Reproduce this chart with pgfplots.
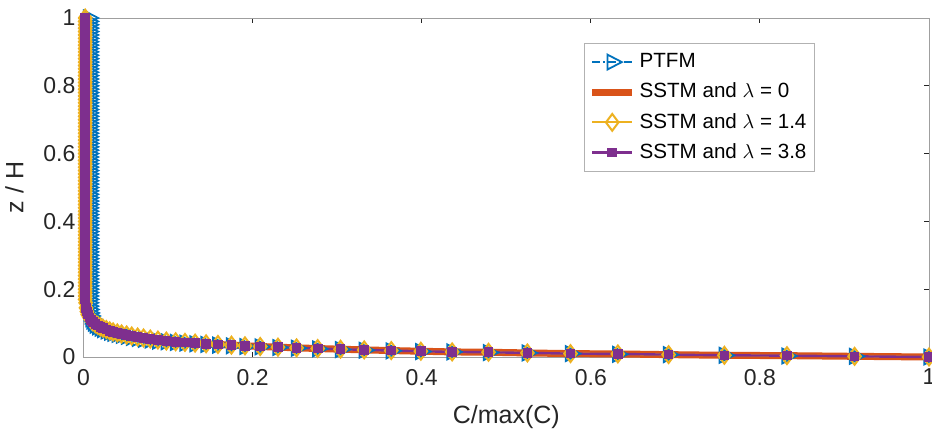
\documentclass[border=0pt]{standalone}
\usepackage{pgfplots}
\usepackage{pgfplotstable}
\pgfplotsset{compat=1.18}
\usepackage{fontspec}
\setmainfont{Liberation Sans}
\definecolor{mblue}{HTML}{0072BD}
\definecolor{morange}{HTML}{D95319}
\definecolor{myellow}{HTML}{EDB120}
\definecolor{mpurple}{HTML}{7E2F8E}
\definecolor{txt}{HTML}{262626}

\pgfplotstableread{
C z
1.000 0.000
0.912 0.002
0.832 0.004
0.758 0.005
0.692 0.007
0.632 0.009
0.576 0.010
0.525 0.012
0.479 0.014
0.436 0.015
0.399 0.017
0.364 0.019
0.332 0.021
0.304 0.023
0.277 0.025
0.252 0.027
0.230 0.029
0.209 0.031
0.191 0.033
0.175 0.035
0.159 0.037
0.145 0.039
0.132 0.041
0.120 0.043
0.109 0.045
0.098 0.047
0.088 0.050
0.079 0.053
0.071 0.056
0.064 0.059
0.057 0.062
0.051 0.065
0.045 0.068
0.040 0.071
0.035 0.074
0.031 0.077
0.027 0.081
0.023 0.085
0.020 0.089
0.017 0.093
0.014 0.098
0.011 0.104
0.009 0.110
0.007 0.117
0.005 0.125
0.004 0.134
0.003 0.145
0.0025 0.160
0.002 0.170
0.002 0.18
0.002 0.19
0.002 0.20
0.002 0.21
0.002 0.22
0.002 0.23
0.002 0.24
0.002 0.25
0.002 0.26
0.002 0.27
0.002 0.28
0.002 0.29
0.002 0.30
0.002 0.31
0.002 0.32
0.002 0.33
0.002 0.34
0.002 0.35
0.002 0.36
0.002 0.37
0.002 0.38
0.002 0.39
0.002 0.40
0.002 0.41
0.002 0.42
0.002 0.43
0.002 0.44
0.002 0.45
0.002 0.46
0.002 0.47
0.002 0.48
0.002 0.49
0.002 0.50
0.002 0.51
0.002 0.52
0.002 0.53
0.002 0.54
0.002 0.55
0.002 0.56
0.002 0.57
0.002 0.58
0.002 0.59
0.002 0.60
0.002 0.61
0.002 0.62
0.002 0.63
0.002 0.64
0.002 0.65
0.002 0.66
0.002 0.67
0.002 0.68
0.002 0.69
0.002 0.70
0.002 0.71
0.002 0.72
0.002 0.73
0.002 0.74
0.002 0.75
0.002 0.76
0.002 0.77
0.002 0.78
0.002 0.79
0.002 0.80
0.002 0.81
0.002 0.82
0.002 0.83
0.002 0.84
0.002 0.85
0.002 0.86
0.002 0.87
0.002 0.88
0.002 0.89
0.002 0.90
0.002 0.91
0.002 0.92
0.002 0.93
0.002 0.94
0.002 0.95
0.002 0.96
0.002 0.97
0.002 0.98
0.002 0.99
0.002 1.00
}\sstm

\pgfplotstableread{
C z
1.000 0.000
0.912 0.002
0.832 0.003
0.758 0.005
0.692 0.007
0.632 0.008
0.576 0.010
0.525 0.012
0.479 0.013
0.436 0.015
0.399 0.016
0.364 0.018
0.332 0.020
0.304 0.022
0.277 0.024
0.252 0.026
0.230 0.028
0.209 0.030
0.191 0.031
0.175 0.033
0.159 0.035
0.145 0.037
0.132 0.039
0.120 0.041
0.109 0.043
0.098 0.045
0.088 0.047
0.079 0.050
0.071 0.052
0.064 0.055
0.057 0.058
0.051 0.061
0.045 0.064
0.040 0.067
0.035 0.070
0.031 0.073
0.027 0.077
0.023 0.081
0.020 0.085
0.017 0.089
0.014 0.094
0.012 0.100
0.010 0.106
0.009 0.113
0.008 0.121
0.007 0.130
0.0065 0.140
0.006 0.150
0.006 0.16
0.006 0.17
0.006 0.18
0.006 0.19
0.006 0.20
0.006 0.21
0.006 0.22
0.006 0.23
0.006 0.24
0.006 0.25
0.006 0.26
0.006 0.27
0.006 0.28
0.006 0.29
0.006 0.30
0.006 0.31
0.006 0.32
0.006 0.33
0.006 0.34
0.006 0.35
0.006 0.36
0.006 0.37
0.006 0.38
0.006 0.39
0.006 0.40
0.006 0.41
0.006 0.42
0.006 0.43
0.006 0.44
0.006 0.45
0.006 0.46
0.006 0.47
0.006 0.48
0.006 0.49
0.006 0.50
0.006 0.51
0.006 0.52
0.006 0.53
0.006 0.54
0.006 0.55
0.006 0.56
0.006 0.57
0.006 0.58
0.006 0.59
0.006 0.60
0.006 0.61
0.006 0.62
0.006 0.63
0.006 0.64
0.006 0.65
0.006 0.66
0.006 0.67
0.006 0.68
0.006 0.69
0.006 0.70
0.006 0.71
0.006 0.72
0.006 0.73
0.006 0.74
0.006 0.75
0.006 0.76
0.006 0.77
0.006 0.78
0.006 0.79
0.006 0.80
0.006 0.81
0.006 0.82
0.006 0.83
0.006 0.84
0.006 0.85
0.006 0.86
0.006 0.87
0.006 0.88
0.006 0.89
0.006 0.90
0.006 0.91
0.006 0.92
0.006 0.93
0.006 0.94
0.006 0.95
0.006 0.96
0.006 0.97
0.006 0.98
0.006 0.99
0.006 1.00
}\ptfm

\begin{document}
\begin{tikzpicture}
\begin{axis}[
  scale only axis,
  width=422.75pt, height=169.5pt,
  xmin=0, xmax=1, ymin=0, ymax=1,
  xtick={0,0.2,0.4,0.6,0.8,1},
  ytick={0,0.2,0.4,0.6,0.8,1},
  tick align=inside,
  major tick length=2.5pt,
  axis line style={gray!75, line width=0.5pt},
  tick style={txt, line width=0.5pt},
  font=\fontsize{11.5}{13.8}\selectfont,
  ticklabel style={text=txt, font=\fontsize{11.5}{13.8}\selectfont},
  /pgf/number format/assume math mode=true,
  xticklabel style={yshift=-2.5pt},
  yticklabel style={xshift=-0.5pt},
  xlabel={C/max(C)},
  ylabel={z / H},
  label style={text=txt, font=\fontsize{12.5}{15}\selectfont},
  xlabel style={yshift=-3pt},
  ylabel style={yshift=3pt},
  clip=false,
  legend cell align=left,
  legend style={at={(0.865,0.926)}, anchor=north east, draw=gray!60,
    font=\fontsize{10.3}{12.4}\selectfont, text=black,
    row sep=2.2pt, inner xsep=2pt, inner ysep=3pt},
  legend image code/.code={\draw[mark repeat=2,mark phase=2] plot coordinates {(0cm,0cm) (0.35cm,0cm) (0.7cm,0cm)};},
]
\coordinate (SW) at (rel axis cs:0,0);
\coordinate (NE) at (rel axis cs:1,1);
\addplot[mblue, line width=0.9pt, dash pattern=on 4pt off 1.5pt on 1pt off 1.5pt,
  mark=triangle, mark size=4.8pt, mark options={solid, rotate=-90, xscale=0.9, line width=0.9pt}]
  table[x=C, y=z] {\ptfm};
\addlegendentry{PTFM}
\addplot[morange, line width=3.5pt] table[x=C, y=z] {\sstm};
\addlegendentry{SSTM and $\lambda$ = 0}
\addplot[myellow, line width=1pt, mark=diamond, mark size=4.2pt, mark options={solid, line width=1pt}]
  table[x=C, y=z] {\sstm};
\addlegendentry{SSTM and $\lambda$ = 1.4}
\addplot[mpurple, line width=1.2pt, mark=square*, mark size=1.8pt]
  table[x=C, y=z] {\sstm};
\addlegendentry{SSTM and $\lambda$ = 3.8}
\end{axis}
\pgfresetboundingbox
\path[use as bounding box] ([xshift=-41.75pt,yshift=-38.5pt]SW) rectangle ([xshift=1.5pt,yshift=9pt]NE);
\end{tikzpicture}
\end{document}
